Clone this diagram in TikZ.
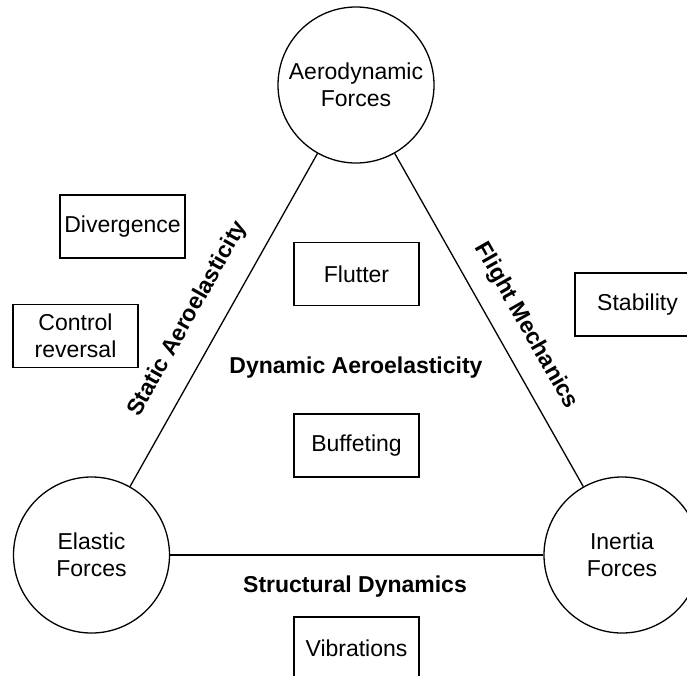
\documentclass[tikz,border=0pt]{standalone}
\usepackage{fontspec}
\setmainfont{Liberation Sans}
\begin{document}
\begin{tikzpicture}[x=1pt, y=-1pt,
  font=\fontsize{23}{27}\selectfont,
  line width=1.3pt,
  force/.style={circle, draw, minimum size=156pt, inner sep=0pt, align=center},
  effect/.style={rectangle, draw, minimum width=125pt, minimum height=63pt, inner sep=0pt, align=center},
  field/.style={font=\fontsize{23}{27}\selectfont\bfseries, inner sep=0pt}]
  \useasboundingbox (0,0) rectangle (687,675);
  \clip (0,0) rectangle (687,675);

  % the three kinds of force
  \node[force] (aero)    at (356,85)  {Aerodynamic\\Forces};
  \node[force] (elastic) at (91.5,555) {Elastic\\Forces};
  \node[force] (inertia) at (622,555) {Inertia\\Forces};

  % triangle joining them
  \draw (aero) -- (elastic);
  \draw (aero) -- (inertia);
  \draw (elastic) -- (inertia);

  % disciplines along the sides and in the middle
  \node[field, rotate=60.6]  (static)  at (188,319) {Static Aeroelasticity};
  \node[field, rotate=-60.5] (flight)  at (526,326) {Flight Mechanics};
  \node[field]               (dynamic) at (356,368) {Dynamic Aeroelasticity};
  \node[field]               (struct)  at (355,587) {Structural Dynamics};

  % phenomena
  \node[effect] (divergence) at (122.5,226.5) {Divergence};
  \node[effect] (reversal)   at (75.5,336)    {Control\\reversal};
  \node[effect] (flutter)    at (356.5,274)   {Flutter};
  \node[effect] (buffeting)  at (356.5,445.5) {Buffeting};
  \node[effect] (stability)  at (637.5,304.5) {Stability};
  \node[effect] (vibrations) at (356.5,648.5) {Vibrations};
\end{tikzpicture}
\end{document}
